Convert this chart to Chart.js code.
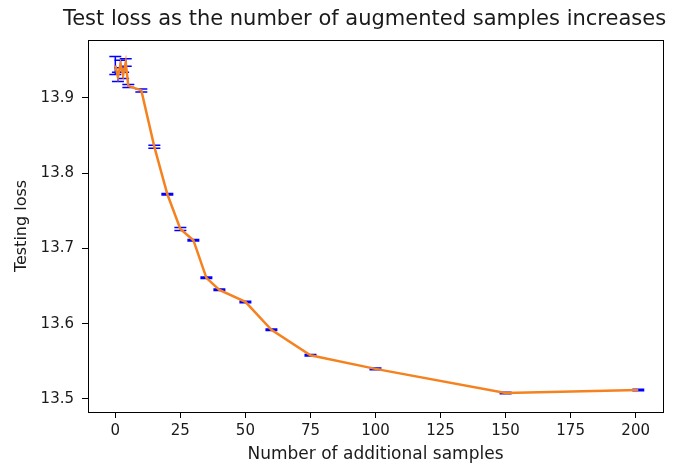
<!DOCTYPE html>
<html>
<head>
<meta charset="utf-8">
<script src="https://cdn.jsdelivr.net/npm/chart.js@4.4.1/dist/chart.umd.min.js"></script>
<style>
  html, body { margin: 0; padding: 0; background: #fff; }
  canvas { display: block; }
</style>
</head>
<body>
<canvas id="lossChart" width="673" height="464"></canvas>
<script>
// Test loss vs number of augmented samples

const sampleCounts = [0, 1, 2, 3, 4, 5, 10, 15, 20, 25, 30, 35, 40, 50, 60, 75, 100, 150, 201];
const testLoss = [13.943, 13.928, 13.945, 13.930, 13.947, 13.916, 13.910, 13.835, 13.772, 13.726,
                  13.711, 13.661, 13.645, 13.629, 13.592, 13.558, 13.540, 13.508, 13.512];
const lossErr = [0.012, 0.006, 0.005, 0.004, 0.005, 0.002, 0.002, 0.002, 0.001, 0.002,
                 0.001, 0.001, 0.001, 0.001, 0.001, 0.001, 0.001, 0.001, 0.001];
const xTicks = [0, 25, 50, 75, 100, 125, 150, 175, 200];
const yTicks = [13.5, 13.6, 13.7, 13.8, 13.9];

const chartTitle = 'Test loss as the number of augmented samples increases';
const FONT = "'DejaVu Sans', sans-serif";
const INK = '#1a1a1a';

// blue error bars, drawn under the line
const errorBars = {
  id: 'errorBars',
  beforeDatasetsDraw(chart) {
    const { ctx, scales: { x, y } } = chart;
    ctx.save();
    ctx.strokeStyle = '#0000ff';
    ctx.lineWidth = 1.5;
    sampleCounts.forEach((v, i) => {
      const px = x.getPixelForValue(v);
      const top = y.getPixelForValue(testLoss[i] + lossErr[i]);
      const bot = y.getPixelForValue(testLoss[i] - lossErr[i]);
      ctx.beginPath();
      ctx.moveTo(px, top); ctx.lineTo(px, bot);
      ctx.moveTo(px - 6, top); ctx.lineTo(px + 6, top);
      ctx.moveTo(px - 6, bot); ctx.lineTo(px + 6, bot);
      ctx.stroke();
    });
    ctx.restore();
  }
};

// matplotlib-style frame + title over the axes
const frame = {
  id: 'frame',
  afterDraw(chart) {
    const { ctx, chartArea: a } = chart;
    ctx.save();
    ctx.strokeStyle = '#000';
    ctx.lineWidth = 1;
    ctx.strokeRect(Math.round(a.left) + 0.5, Math.round(a.top) + 0.5,
                   Math.round(a.right - a.left), Math.round(a.bottom - a.top));
    ctx.fillStyle = INK;
    ctx.font = '21px ' + FONT;
    ctx.textAlign = 'center';
    ctx.textBaseline = 'middle';
    ctx.fillText(chartTitle, (a.left + a.right) / 2 - 11, 20);
    ctx.restore();
  }
};

new Chart(document.getElementById('lossChart'), {
  type: 'line',
  data: {
    datasets: [{
      data: sampleCounts.map((v, i) => ({ x: v, y: testLoss[i] })),
      borderColor: '#f5821f',
      borderWidth: 2.5,
      pointRadius: 0,
      tension: 0,
      fill: false
    }]
  },
  options: {
    responsive: false,
    animation: false,
    layout: { padding: { top: 40, right: 10, left: 0, bottom: 0 } },
    plugins: {
      legend: { display: false },
      tooltip: { enabled: false }
    },
    scales: {
      x: {
        type: 'linear',
        min: -10.5,
        max: 210.5,
        afterBuildTicks: s => { s.ticks = xTicks.map(v => ({ value: v })); },
        afterFit: s => { s.height = 52; },
        border: { display: false },
        grid: { drawOnChartArea: false, drawTicks: true, tickLength: 6, color: '#000', tickColor: '#000' },
        ticks: { color: INK, font: { family: FONT, size: 15 }, padding: 4, maxRotation: 0 },
        title: {
          display: true,
          text: 'Number of additional samples',
          color: INK,
          font: { family: FONT, size: 17 },
          padding: { top: 0, bottom: -1 }
        }
      },
      y: {
        min: 13.4827,
        max: 13.977,
        afterBuildTicks: s => { s.ticks = yTicks.map(v => ({ value: v })); },
        afterFit: s => { s.width = 88; },
        border: { display: false },
        grid: { drawOnChartArea: false, drawTicks: true, tickLength: 6, color: '#000', tickColor: '#000' },
        ticks: {
          color: INK,
          font: { family: FONT, size: 15 },
          padding: 8,
          callback: v => v.toFixed(1)
        },
        title: {
          display: true,
          text: 'Testing loss',
          color: INK,
          font: { family: FONT, size: 16 },
          padding: { top: 12, bottom: 0 }
        }
      }
    }
  },
  plugins: [errorBars, frame]
});
</script>
</body>
</html>
